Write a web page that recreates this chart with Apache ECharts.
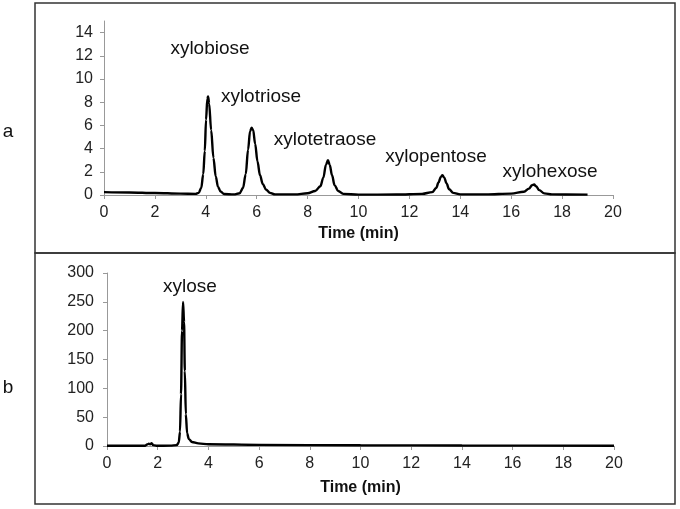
<!DOCTYPE html>
<html>
<head>
<meta charset="utf-8">
<script src="https://cdn.jsdelivr.net/npm/echarts@6/dist/echarts.min.js"></script>
<style>html,body{margin:0;padding:0;background:#fff}#c{width:680px;height:509px}</style>
</head>
<body>
<div id="c"></div>
<script>
// Panel a: xylo-oligosaccharides chromatogram [time (min), signal]
const traceA = [
  [0,0.25],[1,0.22],[2,0.17],[3,0.12],[3.6,0.1],[3.72,0.18],[3.82,0.6],[3.9,1.8],[3.96,3.8],[4.01,6.5],[4.06,8.3],[4.09,8.5],[4.13,7.9],[4.21,5.6],[4.3,3.2],[4.39,1.6],[4.48,0.7],[4.58,0.3],[4.72,0.08],[5.1,0.05],[5.33,0.15],[5.46,0.6],[5.57,1.8],[5.66,3.9],[5.74,5.5],[5.8,5.8],[5.86,5.6],[5.94,4.4],[6.03,2.9],[6.13,1.7],[6.24,0.95],[6.37,0.45],[6.52,0.18],[6.72,0.05],[7.5,0.05],[8.0,0.15],[8.3,0.35],[8.5,0.75],[8.62,1.5],[8.72,2.6],[8.8,3.0],[8.87,2.6],[8.96,1.7],[9.06,0.85],[9.2,0.35],[9.4,0.1],[10,0.03],[11.5,0.04],[12.5,0.1],[12.9,0.25],[13.05,0.6],[13.15,1.1],[13.23,1.55],[13.3,1.7],[13.37,1.5],[13.46,1.0],[13.56,0.5],[13.72,0.18],[14,0.05],[15,0.05],[16,0.12],[16.5,0.28],[16.7,0.55],[16.82,0.85],[16.9,0.9],[16.98,0.75],[17.1,0.42],[17.3,0.14],[17.6,0.05],[19,0.03]
];
// Panel b: xylose chromatogram [time (min), signal]
const traceB = [
  [0,0.5],[1.5,0.5],[1.58,2.5],[1.65,4],[1.7,3],[1.76,5],[1.82,1.5],[1.95,0.5],[2.5,0.6],[2.75,1.5],[2.83,6],[2.88,25],[2.92,90],[2.96,200],[3.0,250],[3.04,215],[3.07,130],[3.11,55],[3.16,22],[3.23,12],[3.35,7],[3.6,4.5],[4,3],[6,2],[10,1.2],[14,0.8],[20,0.5]
];
const xTicks = [0,2,4,6,8,10,12,14,16,18,20];
const yTicksA = [0,2,4,6,8,10,12,14];
const yTicksB = [0,50,100,150,200,250,300];
const labelsA = ['xylobiose','xylotriose','xylotetraose','xylopentose','xylohexose'];
const labelsB = ['xylose'];
const axisTitle = 'Time (min)';

const chart = echarts.init(document.getElementById('c'), null, {renderer:'canvas'});
const FONT = 'Liberation Sans, Arial, sans-serif';
const axisGray = '#999999';
function xAxisCfg(gridIndex, nameGap){
  return {
    type:'value', gridIndex, min:0, max:20, interval:2,
    name: axisTitle, nameLocation:'middle', nameGap,
    nameTextStyle:{fontFamily:FONT,fontSize:16,fontWeight:'bold',color:'#111'},
    axisLine:{show:true,lineStyle:{color:axisGray,width:1}},
    axisTick:{show:true,length:4,lineStyle:{color:axisGray}},
    axisLabel:{fontFamily:FONT,fontSize:16,color:'#222',margin:10},
    splitLine:{show:false}
  };
}
function yAxisCfg(gridIndex, max, interval, ticks, margin){
  return {
    type:'value', gridIndex, min:0, max, interval,
    axisLine:{show:true,lineStyle:{color:axisGray,width:1}},
    axisTick:{show:true,length:4,lineStyle:{color:axisGray},customValues:ticks},
    axisLabel:{fontFamily:FONT,fontSize:16,color:'#222',margin,customValues:ticks},
    splitLine:{show:false}
  };
}
function textEl(t,cx,cy,size){
  return {type:'text',x:cx,y:cy,style:{text:t,font:size+'px '+FONT,fill:'#111',align:'center',verticalAlign:'middle'}};
}
chart.setOption({
  animation:false,
  grid:[
    {left:104,right:67,top:21,bottom:314},
    {left:107,right:66,top:273,bottom:63}
  ],
  xAxis:[xAxisCfg(0,31), xAxisCfg(1,34)],
  yAxis:[yAxisCfg(0,15,1,yTicksA,11), yAxisCfg(1,300,50,yTicksB,13)],
  series:[
    {type:'line',xAxisIndex:0,yAxisIndex:0,data:traceA,showSymbol:false,smooth:0.35,smoothMonotone:'x',lineStyle:{color:'#000',width:2.4}},
    {type:'line',xAxisIndex:1,yAxisIndex:1,data:traceB,showSymbol:false,smooth:0.3,smoothMonotone:'x',lineStyle:{color:'#000',width:2.4}}
  ],
  graphic:[
    {type:'rect',shape:{x:35,y:3,width:640,height:250},style:{fill:'none',stroke:'#333',lineWidth:1.5},silent:true},
    {type:'rect',shape:{x:35,y:253,width:640,height:251},style:{fill:'none',stroke:'#333',lineWidth:1.5},silent:true},
    textEl('a',8,132,19),
    textEl('b',8,388,19),
    textEl(labelsA[0],210,49,19),
    textEl(labelsA[1],261,97,19),
    textEl(labelsA[2],325,140,19),
    textEl(labelsA[3],436,157,19),
    textEl(labelsA[4],550,172,19),
    textEl(labelsB[0],190,287,19)
  ]
});
</script>
</body>
</html>
